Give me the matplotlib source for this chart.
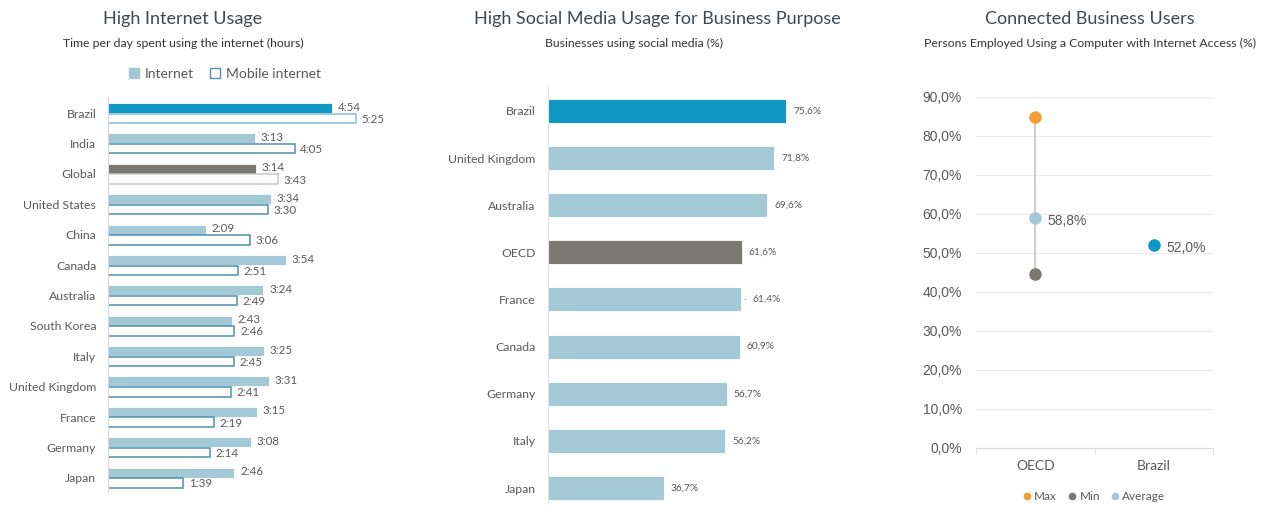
import matplotlib.pyplot as plt
from matplotlib.patches import Patch
from matplotlib.lines import Line2D

plt.rcParams['font.family'] = ['Lato', 'DejaVu Sans']

# ---------- data ----------
countries = ["Brazil", "India", "Global", "United States", "China", "Canada",
             "Australia", "South Korea", "Italy", "United Kingdom", "France",
             "Germany", "Japan"]
internet = ["4:54", "3:13", "3:14", "3:34", "2:09", "3:54", "3:24", "2:43",
            "3:25", "3:31", "3:15", "3:08", "2:46"]
mobile = ["5:25", "4:05", "3:43", "3:30", "3:06", "2:51", "2:49", "2:46",
          "2:45", "2:41", "2:19", "2:14", "1:39"]

social_cats = ["Brazil", "United Kingdom", "Australia", "OECD", "France",
               "Canada", "Germany", "Italy", "Japan"]
social_vals = [75.6, 71.8, 69.6, 61.6, 61.4, 60.9, 56.7, 56.2, 36.7]

conn_cats = ["OECD", "Brazil"]
oecd_max = 84.8
oecd_min = 44.5
oecd_avg = 58.8
brazil_val = 52.0

# ---------- colours ----------
LIGHT = "#A3C9D7"
BRAZIL = "#0F97C1"
GREY = "#7B7872"
TXT = "#595959"
TITLE = "#3E4852"
ORANGE = "#F29D35"


def to_min(s):
    h, m = s.split(":")
    return int(h) * 60 + int(m)


def pct(v):
    return f"{v:.1f}".replace(".", ",") + "%"


fig = plt.figure(figsize=(12.66, 5.05), dpi=100)

# ---------- panel 1: internet usage ----------
ax1 = fig.add_axes([0.0853, 0.0238, 0.2465, 0.784])
y = list(range(len(countries)))
for i, c in enumerate(countries):
    iv = to_min(internet[i])
    mv = to_min(mobile[i])
    fc = LIGHT
    ec_m = "#4F8FAE"
    if c == "Brazil":
        fc = BRAZIL
        ec_m = "#86BFD6"
    elif c == "Global":
        fc = GREY
        ec_m = "#C8C8C8"
    ax1.barh(i - 0.17, iv, height=0.33, color=fc, edgecolor="white", linewidth=0.6)
    ax1.barh(i + 0.17, mv, height=0.31, color="white", edgecolor=ec_m, linewidth=1.1)
    ax1.annotate(internet[i], (iv, i - 0.2), xytext=(4, 0), textcoords="offset points",
                 ha="left", va="center", fontsize=8.3, color=TXT)
    ax1.annotate(mobile[i], (mv, i + 0.2), xytext=(4, 0), textcoords="offset points",
                 ha="left", va="center", fontsize=8.3, color=TXT)

ax1.set_xlim(0, 409.5)
ax1.set_ylim(12.5, -0.53)
ax1.set_yticks(y)
ax1.set_yticklabels(countries, fontsize=8.8, color=TXT)
ax1.tick_params(axis="y", length=0, pad=8.5)
ax1.set_xticks([])
for s in ["top", "right", "bottom"]:
    ax1.spines[s].set_visible(False)
ax1.spines["left"].set_color("#D9D9D9")

handles1 = [Patch(facecolor=LIGHT, edgecolor=LIGHT),
            Patch(facecolor="white", edgecolor="#4F8FAE", linewidth=1)]
ax1.legend(handles1, ["Internet", "Mobile internet"], loc="center",
           bbox_to_anchor=(0.375, 1.058), ncol=2, frameon=False, fontsize=10,
           handlelength=0.7, handleheight=0.7, handletextpad=0.4, columnspacing=1.2,
           labelcolor=TXT)

fig.text(183 / 1266, 1 - 19 / 505, "High Internet Usage", ha="center", va="center",
         fontsize=13, color=TITLE)
fig.text(183 / 1266, 1 - 43 / 505, "Time per day spent using the internet (hours)",
         ha="center", va="center", fontsize=8.8, color="#333333")

# ---------- panel 2: social media ----------
ax2 = fig.add_axes([0.4329, 0.0, 0.2465, 0.828])
for i, c in enumerate(social_cats):
    fc = LIGHT
    if c == "Brazil":
        fc = BRAZIL
    elif c == "OECD":
        fc = GREY
    v = social_vals[i]
    ax2.barh(i, v, height=0.51, color=fc, edgecolor="white", linewidth=0.6)
    if c == "France":
        ax2.annotate("", (v + 0.3, i), xytext=(v + 2.5, i),
                     arrowprops=dict(arrowstyle="-", color="#BFBFBF", lw=0.8))
        ax2.annotate(pct(v), (v, i), xytext=(8, 0), textcoords="offset points",
                     ha="left", va="center", fontsize=7.3, color=TXT)
    else:
        ax2.annotate(pct(v), (v, i), xytext=(5, 0), textcoords="offset points",
                     ha="left", va="center", fontsize=7.3, color=TXT)

ax2.set_xlim(0, 99.1)
ax2.set_ylim(8.36, -0.51)
ax2.set_yticks(range(len(social_cats)))
ax2.set_yticklabels(social_cats, fontsize=8.8, color=TXT)
ax2.tick_params(axis="y", length=0, pad=9)
ax2.set_xticks([])
for s in ["top", "right", "bottom"]:
    ax2.spines[s].set_visible(False)
ax2.spines["left"].set_color("#E3E3E3")

fig.text(657 / 1266, 1 - 19 / 505, "High Social Media Usage for Business Purpose",
         ha="center", va="center", fontsize=13, color=TITLE)
fig.text(634 / 1266, 1 - 43 / 505, "Businesses using social media (%)",
         ha="center", va="center", fontsize=8.8, color="#333333")

# ---------- panel 3: connected business users ----------
ax3 = fig.add_axes([976 / 1266, 1 - 447.7 / 505, 237 / 1266, 351 / 505])
ax3.plot([0, 0], [oecd_min, oecd_max], color="#C4C4C4", lw=1.2, zorder=1)
ax3.plot(0, oecd_max, "o", color=ORANGE, ms=8, zorder=3)
ax3.plot(0, oecd_min, "o", color=GREY, ms=8, zorder=3)
ax3.plot(0, oecd_avg, "o", color=LIGHT, ms=8, zorder=3)
ax3.plot(1, brazil_val, "o", color=BRAZIL, ms=8, zorder=3)
ax3.annotate(pct(oecd_avg), (0, oecd_avg), xytext=(9, -2), textcoords="offset points",
             ha="left", va="center", fontsize=10, color=TXT, family="Liberation Sans")
ax3.annotate(pct(brazil_val), (1, brazil_val), xytext=(9, -2), textcoords="offset points",
             ha="left", va="center", fontsize=10, color=TXT, family="Liberation Sans")

ax3.set_xlim(-0.5, 1.5)
ax3.set_ylim(0, 90)
yt = [0, 10, 20, 30, 40, 50, 60, 70, 80, 90]
ax3.set_yticks(yt)
ax3.set_yticklabels([pct(v) for v in yt], fontsize=10, color=TXT, family="Liberation Sans")
ax3.tick_params(axis="y", length=0, pad=10)
ax3.set_xticks([0, 1])
ax3.set_xticklabels(conn_cats, fontsize=10, color=TXT)
ax3.set_xticks([-0.5, 0.5, 1.5], minor=True)
ax3.tick_params(axis="x", which="major", length=0, pad=9)
ax3.tick_params(axis="x", which="minor", length=4, color="#D9D9D9")
ax3.grid(axis="y", color="#EBEBEB", lw=1)
ax3.set_axisbelow(True)
for s in ["top", "right", "left"]:
    ax3.spines[s].set_visible(False)
ax3.spines["bottom"].set_color("#D9D9D9")

handles3 = [Line2D([], [], marker="o", ls="", color=ORANGE, ms=4.5),
            Line2D([], [], marker="o", ls="", color=GREY, ms=4.5),
            Line2D([], [], marker="o", ls="", color=LIGHT, ms=4.5)]
ax3.legend(handles3, ["Max", "Min", "Average"], loc="center",
           bbox_to_anchor=(0.5, -0.14), ncol=3, frameon=False, fontsize=8.5,
           handlelength=0.6, handletextpad=0.3, columnspacing=1.0, labelcolor=TXT)

fig.text(1090 / 1266, 1 - 19 / 505, "Connected Business Users", ha="center",
         va="center", fontsize=13, color=TITLE)
fig.text(1090 / 1266, 1 - 43 / 505,
         "Persons Employed Using a Computer with Internet Access (%)",
         ha="center", va="center", fontsize=8.8, color="#333333")

fig.savefig("out.png", dpi=100)
